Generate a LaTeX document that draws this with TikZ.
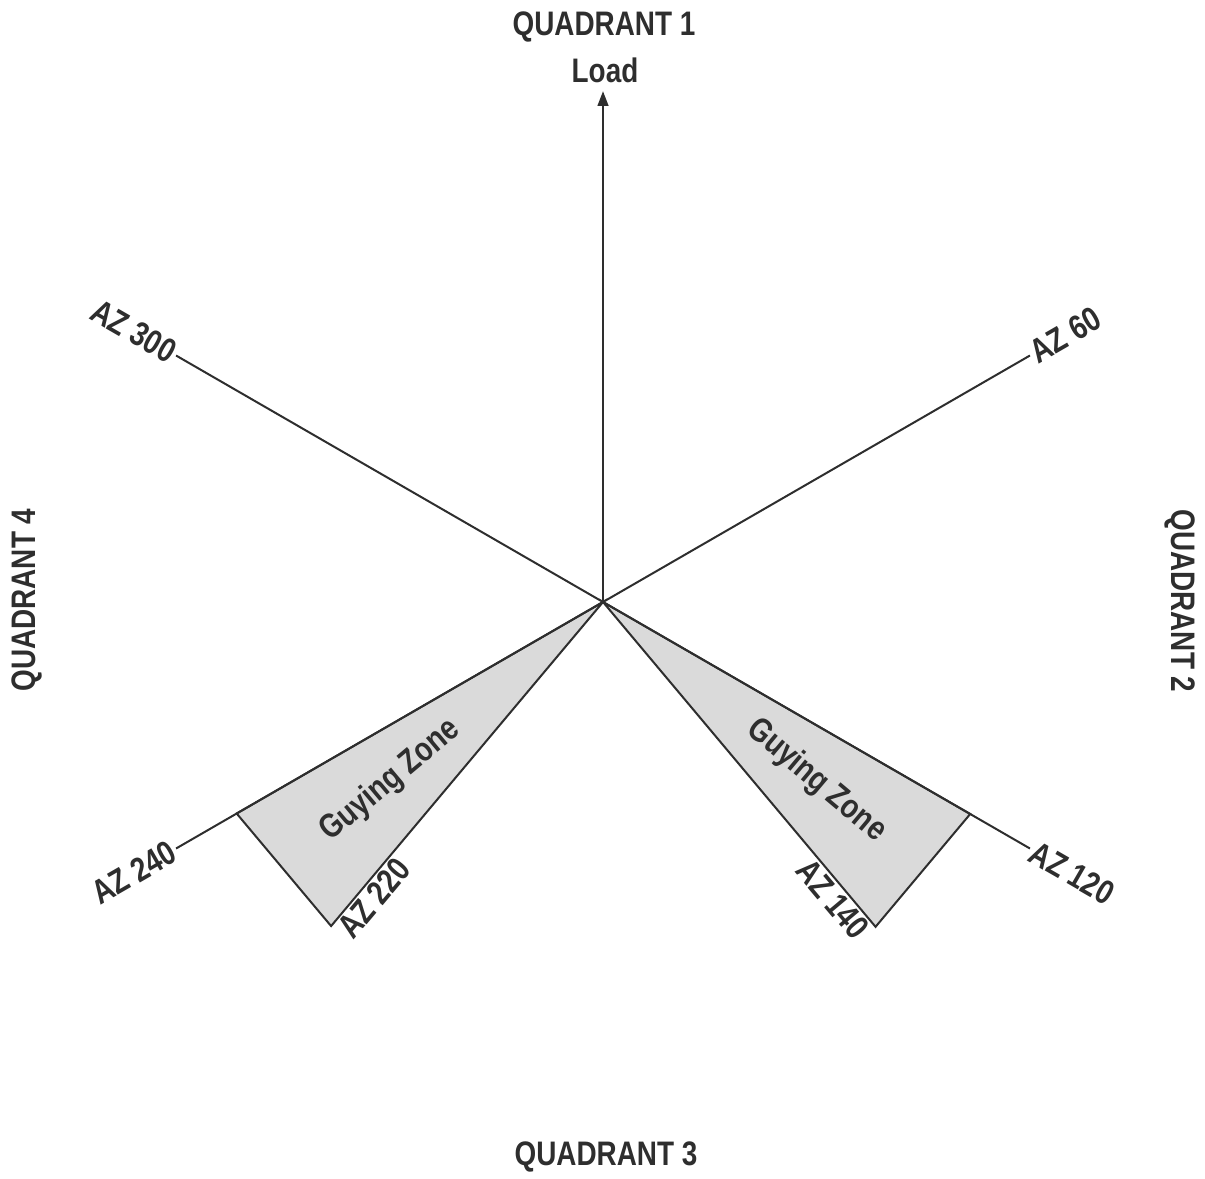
\documentclass[tikz,border=0pt]{standalone}
\usepackage{fontspec}
\setmainfont{Liberation Sans}[FakeStretch=0.82]
\usetikzlibrary{arrows.meta,calc}
\definecolor{ink}{HTML}{2E2E2E}
\definecolor{zonefill}{HTML}{DADADA}
\begin{document}
\begin{tikzpicture}[x=0.75pt,y=-0.75pt,
  lab/.style={font=\bfseries\fontsize{25.5}{30}\selectfont, text=ink, inner sep=2pt},
  ray/.style={draw=ink, line width=1.5pt},
  zone/.style={draw=ink, line width=1.5pt, fill=zonefill, line join=miter}]
\useasboundingbox (0,0) rectangle (1205,1178);
\coordinate (O) at (603,602);
% ray ends (angles in picture frame, clockwise from east)
\coordinate (E60)  at ($(O)+(-30:493)$);
\coordinate (E120) at ($(O)+(30:493)$);
\coordinate (E240) at ($(O)+(150:493)$);
\coordinate (E300) at ($(O)+(210:493)$);
% guying zone corners
\coordinate (G240) at ($(O)+(150:423)$);
\coordinate (G220) at ($(O)+(130:423)$);
\coordinate (G120) at ($(O)+(30:424)$);
\coordinate (G140) at ($(O)+(50:424)$);
% zones
\draw[zone] (O) -- (G240) -- (G220) -- cycle;
\draw[zone] (O) -- (G120) -- (G140) -- cycle;
% rays
\draw[ray] (O) -- (E60);
\draw[ray] (O) -- (E120);
\draw[ray] (O) -- (E240);
\draw[ray] (O) -- (E300);
% quadrant labels
\node[lab] (q1) at (604,27) {QUADRANT 1};
\node[lab, outer sep=4.5pt] (load) at (605,70) {Load};
\node[lab] (q3) at (606,1157) {QUADRANT 3};
\node[lab, rotate=90] (q4) at (27,600) {QUADRANT 4};
\node[lab, rotate=-90] (q2) at (1180,601) {QUADRANT 2};
% load arrow
\draw[ray, -{Triangle[width=8pt,length=11pt]}] (O) -- (O |- load.south);
% azimuth labels
\node[lab, rotate=30, anchor=west] (az60) at (E60) {AZ 60};
\node[lab, rotate=-30, anchor=west] (az120) at (E120) {AZ 120};
\node[lab, rotate=30, anchor=east] (az240) at (E240) {AZ 240};
\node[lab, rotate=-30, anchor=east] (az300) at (E300) {AZ 300};
\node[lab, rotate=50, anchor=north west] (az220) at (G220) {AZ 220};
\node[lab, rotate=-50, anchor=north east] (az140) at (G140) {AZ 140};
% zone labels
\node[lab, rotate=40] (gz1) at (barycentric cs:O=1,G240=1,G220=1) {Guying Zone};
\node[lab, rotate=-40] (gz2) at (barycentric cs:O=1,G120=1,G140=1) {Guying Zone};
\end{tikzpicture}
\end{document}
